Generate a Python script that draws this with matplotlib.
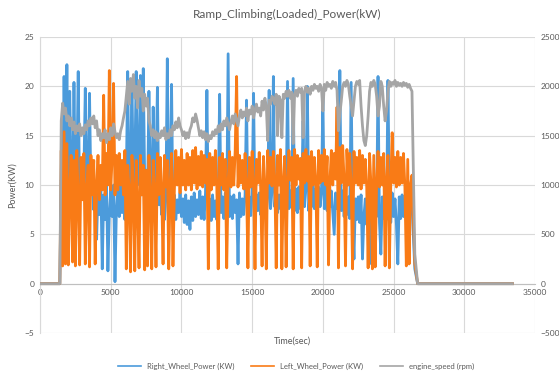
import matplotlib.pyplot as plt
from matplotlib.lines import Line2D
import numpy as np

plt.rcParams['font.family'] = ['Lato', 'DejaVu Sans']

# samples every 100 s while the truck is running (1500 s .. 26300 s)
t_start = 1500
t_step = 100

right_kw = [
    10.5, 9.0, 21.0, 10.2, 22.2, 8.5, 19.5, 10.5, 8.0, 20.4,
    9.5, 11.0, 21.5, 8.2, 10.5, 9.0, 11.2, 19.8, 8.5, 10.5,
    19.3, 9.0, 10.8, 7.5, 10.0, 4.5, 9.5, 7.0, 10.0, 1.5,
    9.0, 6.5, 10.2, 1.3, 7.0, 9.5, 6.8, 10.0, 0.2, 7.5,
    9.8, 6.8, 10.0, 7.2, 9.5, 6.5, 10.5, 21.5, 8.0, 11.0,
    20.6, 9.5, 11.5, 21.5, 10.0, 12.0, 21.1, 9.0, 21.8, 10.5,
    11.5, 8.5, 19.5, 10.0, 7.5, 17.9, 9.0, 11.0, 19.9, 8.0,
    9.5, 7.0, 9.0, 6.5, 8.8, 22.8, 7.2, 9.2, 20.2, 6.8,
    9.0, 6.5, 8.5, 7.2, 9.2, 6.8, 8.6, 6.2, 9.0, 6.0,
    8.4, 5.5, 8.8, 6.4, 9.2, 6.8, 8.5, 7.0, 9.4, 6.6,
    8.8, 6.5, 9.2, 19.6, 7.0, 8.6, 6.4, 9.0, 6.8, 8.4,
    6.5, 9.0, 19.2, 7.2, 8.8, 6.6, 9.2, 7.0, 23.3, 6.8,
    8.8, 6.6, 9.0, 7.2, 8.5, 2.0, 9.2, 6.8, 8.6, 7.0,
    9.0, 18.6, 7.2, 8.8, 6.9, 9.4, 19.3, 7.0, 9.0, 7.4,
    9.2, 7.0, 8.6, 7.5, 9.4, 7.2, 8.8, 19.6, 7.6, 9.4,
    21.0, 7.8, 9.6, 7.2, 9.0, 7.6, 9.8, 7.4, 9.2, 7.8,
    20.5, 7.6, 9.4, 7.8, 20.8, 7.4, 9.6, 7.2, 9.8, 7.6,
    9.2, 16.5, 7.8, 9.6, 20.0, 7.4, 9.4, 7.8, 10.0, 7.6,
    9.6, 7.2, 9.8, 7.8, 9.2, 19.0, 7.6, 9.8, 7.4, 9.6,
    7.8, 9.4, 7.2, 5.0, 9.2, 7.6, 9.0, 21.6, 7.4, 9.4,
    6.8, 9.0, 7.0, 8.8, 6.6, 20.4, 6.8, 2.5, 8.6, 6.5,
    8.8, 6.2, 9.0, 2.5, 6.8, 8.6, 6.0, 9.0, 2.0, 6.6,
    8.8, 6.4, 9.2, 6.8, 21.0, 6.2, 3.0, 8.8, 6.6, 9.0,
    6.5, 20.6, 8.8, 6.2, 9.2, 6.8, 8.6, 6.0, 2.0, 8.8,
    6.6, 9.0, 6.8, 8.6, 6.4, 9.0, 7.0, 8.5, 8.0,
]

left_kw = [
    13.5, 1.8, 15.4, 2.0, 14.2, 1.9, 9.5, 13.0, 2.2, 12.5,
    1.8, 13.5, 9.0, 1.9, 12.8, 8.5, 13.2, 2.0, 9.5, 12.0,
    1.7, 13.0, 9.0, 12.5, 2.0, 10.0, 13.0, 8.5, 12.0, 9.5,
    19.1, 9.0, 13.2, 10.0, 21.6, 9.5, 12.8, 20.3, 9.0, 13.0,
    9.5, 13.2, 10.0, 12.5, 9.0, 13.5, 1.5, 12.0, 9.5, 1.2,
    13.0, 9.5, 1.3, 12.5, 8.0, 1.6, 13.0, 9.0, 12.0, 1.4,
    11.5, 1.8, 13.0, 9.0, 1.5, 12.5, 9.5, 1.7, 13.2, 9.0,
    12.8, 9.5, 2.0, 13.0, 9.8, 12.5, 1.5, 10.0, 13.2, 1.8,
    9.5, 13.5, 10.0, 12.8, 9.2, 13.6, 10.0, 12.5, 9.5, 13.2,
    10.0, 12.8, 9.5, 13.5, 10.2, 13.8, 9.6, 12.9, 10.0, 13.4,
    9.8, 13.0, 10.2, 12.6, 1.5, 13.2, 9.5, 12.8, 10.0, 13.5,
    9.8, 1.5, 12.8, 10.0, 13.2, 9.5, 12.6, 1.6, 10.2, 13.4,
    9.8, 12.8, 10.0, 13.5, 21.0, 9.8, 13.0, 10.2, 12.5, 9.6,
    13.2, 10.0, 1.6, 12.8, 9.8, 13.4, 10.0, 1.5, 12.6, 10.2,
    13.3, 9.8, 1.8, 12.9, 10.0, 1.5, 13.5, 10.2, 12.8, 9.9,
    13.4, 10.5, 1.6, 13.0, 10.0, 13.6, 1.5, 10.4, 12.9, 1.7,
    10.2, 13.5, 10.5, 12.8, 1.5, 13.6, 10.0, 13.0, 10.6, 12.7,
    1.6, 13.2, 10.2, 13.6, 10.4, 12.9, 1.8, 13.4, 10.0, 12.8,
    10.5, 1.7, 13.5, 10.2, 13.0, 10.4, 13.6, 10.0, 12.9, 1.9,
    10.4, 13.5, 10.0, 13.2, 10.6, 17.9, 1.6, 13.8, 10.2, 14.0,
    10.5, 1.8, 13.6, 10.0, 13.2, 9.8, 1.5, 13.4, 10.2, 12.8,
    10.0, 13.5, 9.6, 13.0, 10.2, 12.6, 9.8, 1.6, 13.2, 10.0,
    1.5, 13.0, 1.7, 10.2, 13.4, 9.8, 12.8, 10.0, 13.2, 1.8,
    10.4, 13.0, 1.6, 10.0, 15.3, 10.2, 12.8, 9.8, 13.4, 10.0,
    12.8, 10.2, 13.2, 9.8, 1.8, 12.6, 2.0, 10.0, 11.0,
]

engine_rpm = [
    1650, 1830, 1720, 1780, 1650, 1700, 1600, 1680, 1560, 1640,
    1520, 1600, 1550, 1620, 1500, 1580, 1520, 1610, 1560, 1650,
    1600, 1680, 1620, 1700, 1580, 1650, 1500, 1560, 1450, 1520,
    1480, 1560, 1430, 1520, 1460, 1580, 1500, 1620, 1540, 1480,
    1520, 1460, 1550, 1600, 1680, 1750, 1900, 2050, 1820, 2080,
    1950, 2120, 1880, 2000, 1780, 2060, 1900, 1980, 1750, 1920,
    1800, 1880, 1650, 1600, 1500, 1560, 1480, 1540, 1450, 1520,
    1480, 1550, 1500, 1580, 1460, 1520, 1480, 1560, 1500, 1600,
    1560, 1640, 1580, 1680, 1600, 1560, 1500, 1540, 1470, 1530,
    1480, 1560, 1600, 1680, 1640, 1720, 1660, 1580, 1500, 1550,
    1480, 1540, 1460, 1520, 1440, 1500, 1470, 1540, 1500, 1560,
    1520, 1600, 1540, 1620, 1560, 1650, 1600, 1680, 1620, 1560,
    1640, 1700, 1620, 1720, 1660, 1600, 1700, 1760, 1680, 1740,
    1700, 1780, 1650, 1760, 1720, 1800, 1680, 1760, 1820, 1740,
    1780, 1700, 1850, 1760, 1880, 1800, 1450, 1860, 1820, 1900,
    1880, 1820, 1920, 1500, 1900, 1860, 1480, 1920, 1880, 1950,
    1900, 1960, 1880, 1940, 1420, 1920, 1960, 1900, 1980, 1940,
    1980, 1480, 1950, 2000, 1940, 1980, 1920, 2000, 1960, 2020,
    1980, 2000, 1950, 2020, 1980, 1750, 2020, 1960, 2040, 2000,
    2020, 1980, 2050, 2000, 2040, 1960, 1550, 1720, 1850, 2000,
    2040, 2000, 2060, 2020, 1900, 1800, 1700, 1850, 2000, 2050,
    2020, 2060, 1800, 1600, 1450, 1400, 1500, 1700, 1950, 2040,
    2000, 2060, 2020, 1900, 1700, 1800, 2050, 2000, 1800, 1650,
    1750, 1950, 2050, 2000, 2040, 2020, 2060, 2000, 2040, 2010,
    2030, 2000, 2040, 2010, 2030, 1990, 2020, 1980, 1950,
]

# idle before start and after shutdown
idle_before = [0, 1400]
idle_after = [26500, 26700, 33400]
right_after = [1.5, 0, 0]
left_after = [2.0, 0, 0]
rpm_after = [300, 0, 0]

run_t = list(t_start + t_step * np.arange(len(engine_rpm)))
t = idle_before + run_t + idle_after
right = [0, 0] + right_kw + right_after
left = [0, 0] + left_kw + left_after
rpm = [0, 0] + engine_rpm + rpm_after

names = ['Right_Wheel_Power (KW)', 'Left_Wheel_Power (KW)', 'engine_speed (rpm)']
blue = '#4C9BDB'
orange = '#F97B16'
grey = '#A5A5A5'
txt = '#595959'

fig = plt.figure(figsize=(5.59, 3.71), dpi=100)
ax = fig.add_axes([0.0716, 0.1024, 0.8855, 0.7978])
ax2 = ax.twinx()

ax.plot(t, right, color=blue, lw=2.0, zorder=3)
ax.plot(t, left, color=orange, lw=2.0, zorder=4)
ax2.plot(t, rpm, color=grey, lw=2.0, zorder=5)

ax.set_xlim(0, 35000)
ax.set_ylim(-5, 25)
ax2.set_ylim(-500, 2500)
ax.set_xticks(np.arange(0, 35001, 5000))
ax.set_yticks(np.arange(-5, 26, 5))
ax2.set_yticks(np.arange(-500, 2501, 500))

ax.grid(True, color='#D9D9D9', lw=0.8)
ax.set_axisbelow(True)
for a in (ax, ax2):
    for s in ('top', 'right'):
        a.spines[s].set_visible(False)
ax2.spines['left'].set_visible(False)
ax2.spines['bottom'].set_visible(False)
ax.spines['left'].set_color('#D9D9D9')
ax.spines['bottom'].set_position(('data', 0))
ax.spines['bottom'].set_color('#BFBFBF')

ax.tick_params(length=0, labelsize=6, labelcolor=txt, pad=4)
ax2.tick_params(length=0, labelsize=6, labelcolor=txt, pad=4)

ax.set_xlabel('Time(sec)', fontsize=6.5, color=txt)
ax.xaxis.set_label_coords(0.51, -0.012)
ax.set_ylabel('Power(KW)', fontsize=6.5, color=txt, labelpad=6)
ax.set_title('Ramp_Climbing(Loaded)_Power(kW)', fontsize=8.5, color=txt, pad=14)

# thin legend keys like the spreadsheet legend
handles = [Line2D([], [], color=c, lw=1.2) for c in (blue, orange, grey)]
fig.legend(handles, names, loc='lower center', bbox_to_anchor=(0.53, -0.015),
           ncol=3, frameon=False, fontsize=5.5, labelcolor=txt,
           handlelength=3.0, columnspacing=2.2)

fig.savefig('out.png', dpi=100)
